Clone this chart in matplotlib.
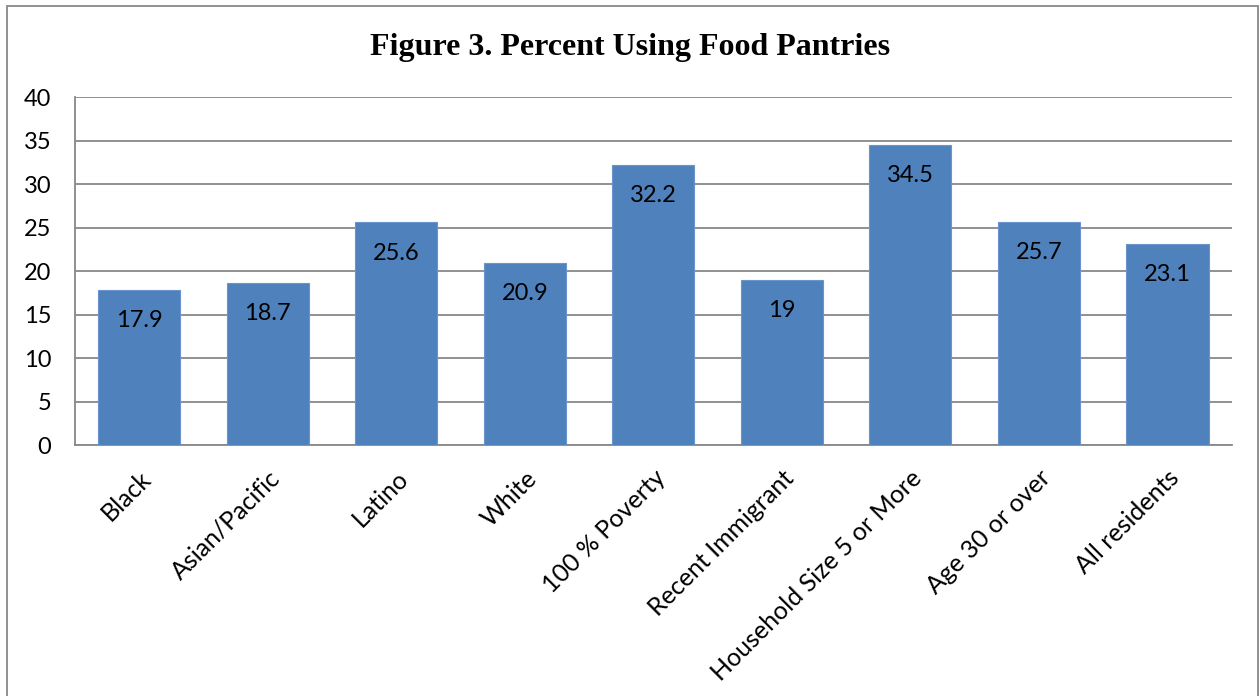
import matplotlib.pyplot as plt
from matplotlib.patches import Rectangle

# data
categories = ['Black', 'Asian/Pacific', 'Latino', 'White', '100 % Poverty',
              'Recent Immigrant', 'Household Size 5 or More', 'Age 30 or over',
              'All residents']
values = [17.9, 18.7, 25.6, 20.9, 32.2, 19, 34.5, 25.7, 23.1]
value_labels = ['17.9', '18.7', '25.6', '20.9', '32.2', '19', '34.5', '25.7', '23.1']
yticks = [0, 5, 10, 15, 20, 25, 30, 35, 40]

plt.rcParams['font.family'] = ['Lato', 'DejaVu Sans']

fig = plt.figure(figsize=(12.6, 6.96), dpi=100)
ax = fig.add_axes([0.0595, 0.36, 0.918, 0.5006])

x = range(len(categories))
bars = ax.bar(x, values, width=0.64, color='#4F81BD', edgecolor='#6A95CC',
              linewidth=0.8, zorder=3)

for b, lab in zip(bars, value_labels):
    ax.annotate(lab, (b.get_x() + b.get_width() / 2, b.get_height()),
                xytext=(0, -22), textcoords='offset points',
                ha='center', va='center', fontsize=17, color='black', zorder=4)

ax.set_ylim(0, 40)
ax.set_xlim(-0.5, len(categories) - 0.5)
ax.set_yticks(yticks)
ax.set_yticklabels([str(t) for t in yticks], fontsize=17)
ax.yaxis.grid(True, color='#888888', linewidth=1.3, zorder=0)
ax.tick_params(axis='x', length=0, pad=15)
ax.tick_params(axis='y', length=0, pad=17)
ax.set_xticks(list(x))
ax.set_xticklabels(categories, rotation=45, ha='right', rotation_mode='anchor',
                   fontsize=18)
for s in ['top', 'right']:
    ax.spines[s].set_visible(False)
for s in ['left', 'bottom']:
    ax.spines[s].set_color('#888888')
    ax.spines[s].set_linewidth(1.3)

fig.text(0.5, 0.932, 'Figure 3. Percent Using Food Pantries', ha='center',
         va='center', fontsize=23, fontweight='bold', family='Liberation Serif')

# outer chart border
fig.patches.append(Rectangle((7 / 1260, -0.05), 1251 / 1260, 1 - 6 / 696 + 0.05,
                             transform=fig.transFigure, fill=False,
                             edgecolor='#888888', linewidth=1.3))

fig.savefig('out.png', dpi=100)
